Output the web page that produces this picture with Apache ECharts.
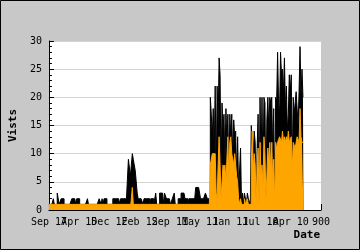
<!DOCTYPE html>
<html><head><meta charset="utf-8">
<script src="https://cdn.jsdelivr.net/npm/echarts@6/dist/echarts.min.js"></script>
<style>html,body{margin:0;padding:0;background:#c8c8c8}#c{width:360px;height:250px}</style>
</head><body><div id="c"></div>
<script>
const tickLabels = ['Sep 17','Apr 15','Dec 12','Feb 12','Sep 11','May 11','Jan 11','Jul 10','Apr 10','900'];
const visits = [
1,1,1,1,1,2,1,1,1,3,
3,1,1,2,2,2,1,1,1,1,
1,1,1,1,2,2,2,2,1,2,
2,2,1,1,1,1,1,1,1,1,
2,1,1,1,1,1,1,1,1,1,
1,1,2,2,1,2,1,2,2,2,
1,1,1,1,1,1,2,2,2,2,
2,2,1,1,2,2,2,2,2,2,
2,2,9,9,6,6,10,9,9,7,
7,3,2,2,2,2,2,1,2,2,
2,2,2,2,1,2,2,2,1,1,
3,1,1,1,3,3,3,3,1,3,
3,2,2,2,2,1,1,2,2,3,
1,1,1,2,2,2,3,3,3,3,
2,2,2,1,2,2,2,2,2,2,
2,4,4,4,4,4,2,2,2,2,
2,3,3,2,2,2,20,17,13,18,
10,22,5,22,15,27,24,6,19,14,
17,8,18,12,17,6,17,13,17,9,
16,13,14,5,13,3,3,11,1,3,
1,3,3,1,3,2,2,1,15,15,
9,14,12,1,11,17,1,20,8,20,
6,20,19,3,16,20,14,20,19,20,
10,18,1,20,19,28,19,17,28,24,
25,21,27,18,22,14,17,24,21,24,
7,20,17,17,21,21,15,21,29,20,
25,20
];
const uniques = [
1,1,1,1,1,1,1,1,1,1,
1,1,1,1,1,1,1,1,1,1,
1,1,1,1,1,1,1,1,1,1,
1,1,1,1,1,1,1,1,1,1,
1,1,1,1,1,1,1,1,1,1,
1,1,1,1,1,1,1,1,1,1,
1,1,1,1,1,1,1,1,1,1,
1,1,1,1,1,1,1,1,1,1,
1,1,1,1,1,1,4,1,1,1,
1,1,1,1,1,1,1,1,1,1,
1,1,1,1,1,1,1,1,1,1,
1,1,1,1,1,1,1,1,1,1,
1,1,1,1,1,1,1,1,1,1,
1,1,1,1,1,1,1,1,1,1,
1,1,1,1,1,1,1,1,1,1,
1,1,1,1,1,1,1,1,1,1,
1,1,1,1,1,1,8,8,10,10,
10,10,3,2,8,13,8,2,2,8,
7,8,5,5,13,5,12,13,10,10,
8,10,10,6,5,2,1,2,1,1,
1,2,1,1,2,1,1,1,8,14,
7,10,8,1,8,11,1,12,6,8,
4,13,10,2,6,11,8,12,6,12,
5,9,1,12,11,12,12,13,13,12,
14,12,13,12,13,12,14,12,12,13,
7,12,12,11,11,13,13,12,18,13,
12,12
];
const chart = echarts.init(document.getElementById('c'), null, {renderer:'canvas'});
const mono = '"DejaVu Sans Mono"';
const labelBase = {fontFamily:mono,fontSize:10,color:'#000',margin:7,showMinLabel:true,showMaxLabel:true,hideOverlap:false};
function pick(parity){
  return v => { const k = Math.round(v/31); return (k % 2 === parity) ? (tickLabels[k] || '') : ''; };
}
chart.setOption({
  animation:false,
  backgroundColor:'#c8c8c8',
  grid:{left:40,right:39,top:41,bottom:40,show:true,backgroundColor:'#fff',borderWidth:0},
  xAxis:[
    {type:'value',min:0,max:279,interval:31,position:'bottom',
      axisLine:{lineStyle:{color:'#000',width:1}},
      axisTick:{inside:true,length:6,lineStyle:{color:'#000'}},
      axisLabel:Object.assign({formatter:pick(0)},labelBase),
      splitLine:{show:false}},
    {type:'value',min:0,max:279,interval:31,position:'bottom',offset:0,
      axisLine:{show:false},axisTick:{show:false},
      axisLabel:Object.assign({formatter:pick(1)},labelBase),
      splitLine:{show:false}}
  ],
  yAxis:{type:'value',min:0,max:30,interval:5,name:'Vists',nameLocation:'middle',nameGap:26,
    nameTextStyle:{fontFamily:mono,fontSize:11,fontWeight:'bold',color:'#000'},
    axisLine:{show:true,lineStyle:{color:'#000'}},
    axisTick:{inside:true,length:5,lineStyle:{color:'#000'}},
    minorTick:{show:true,splitNumber:5,length:3,lineStyle:{color:'#000'}},
    axisLabel:{fontFamily:mono,fontSize:10,color:'#000',margin:7,showMinLabel:true,showMaxLabel:true},
    splitLine:{lineStyle:{color:'#d4d4d4'}}},
  graphic:[
    {type:'rect',shape:{x:0.5,y:0.5,width:359,height:249},style:{fill:null,stroke:'#000',lineWidth:1},z:100},
    {type:'text',right:40,top:230,style:{text:'Date',font:'bold 11px "DejaVu Sans Mono"',fill:'#000'}}
  ],
  series:[
    {type:'line',step:'middle',xAxisIndex:0,data:visits.map((v,i)=>[i,v]),showSymbol:false,lineStyle:{color:'#000',width:1},areaStyle:{color:'#000',opacity:1},z:2},
    {type:'line',step:'middle',xAxisIndex:0,data:uniques.map((v,i)=>[i,v]),showSymbol:false,lineStyle:{color:'#ffa500',width:1},areaStyle:{color:'#ffa500',opacity:1},z:3}
  ]
});
</script></body></html>
